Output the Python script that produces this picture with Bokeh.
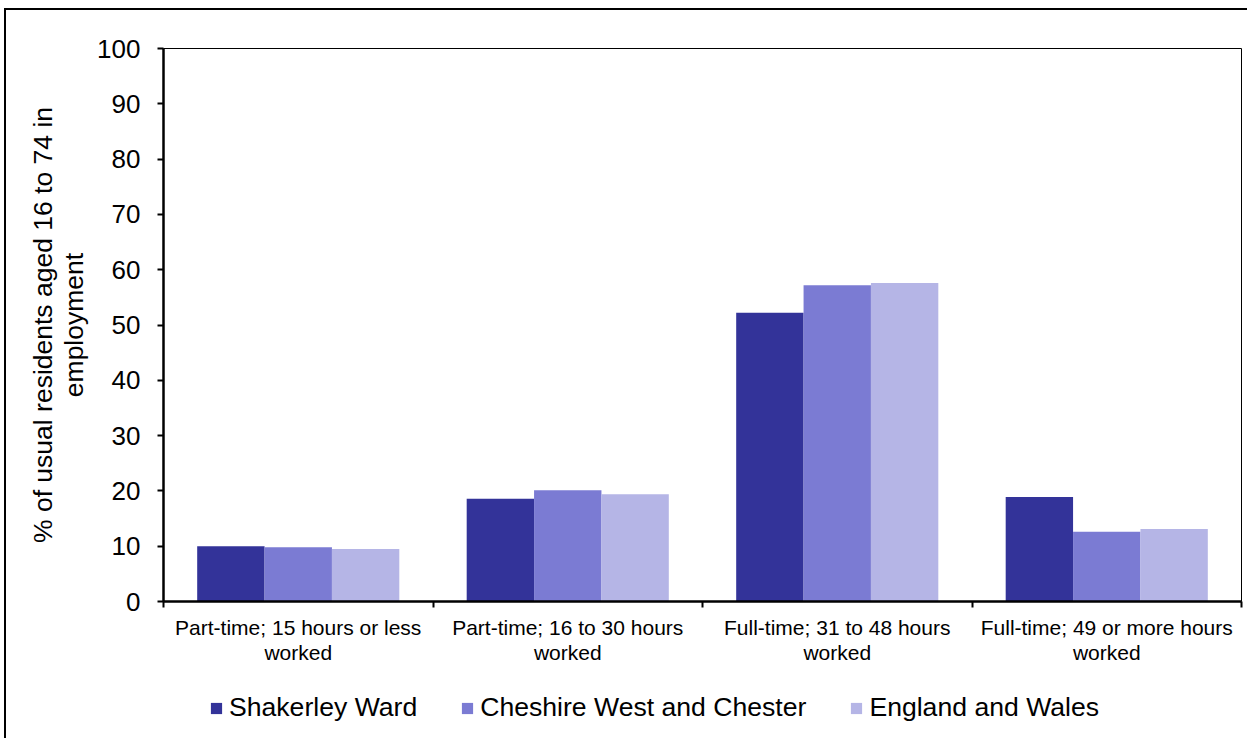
from bokeh.plotting import figure
from bokeh.layouts import column
from bokeh.models import ColumnDataSource, FixedTicker, Range1d, Legend, LegendItem
from bokeh.transform import dodge
from bokeh.embed import file_html
from bokeh.resources import INLINE

categories = [
    "Part-time; 15 hours or less\nworked",
    "Part-time; 16 to 30 hours\nworked",
    "Full-time; 31 to 48 hours\nworked",
    "Full-time; 49 or more hours\nworked",
]
series_names = ["Shakerley Ward", "Cheshire West and Chester", "England and Wales"]
shakerley = [10.0, 18.6, 52.2, 18.9]
cheshire = [9.8, 20.1, 57.2, 12.6]
england = [9.5, 19.4, 57.6, 13.1]
colors = ["#333399", "#7b7bd3", "#b5b5e6"]
y_ticks = list(range(0, 101, 10))
y_label = "% of usual residents aged 16 to 74 in\nemployment"

FONT = "Liberation Sans"

centers = [i + 0.5 for i in range(len(categories))]
source = ColumnDataSource(dict(x=centers, s1=shakerley, s2=cheshire, s3=england))
keys = ["s1", "s2", "s3"]
offsets = [-0.25, 0.0, 0.25]

p = figure(
    width=1241, height=660,
    x_range=Range1d(0, len(categories)), y_range=Range1d(0, 100),
    output_backend="svg", toolbar_location=None,
    min_border_left=157, min_border_right=6, min_border_top=38, min_border_bottom=69,
)

for key, off, col in zip(keys, offsets, colors):
    p.vbar(x=dodge("x", off, range=p.x_range), top=key, width=0.25, bottom=0,
           source=source, fill_color=col, line_color=None)

p.xgrid.visible = False
p.ygrid.visible = False
p.outline_line_color = "black"
p.outline_line_width = 1
p.background_fill_color = "white"
p.border_fill_color = "white"

# x axis
xa = p.xaxis[0]
xa.ticker = FixedTicker(ticks=centers, minor_ticks=list(range(len(categories) + 1)))
xa.major_label_overrides = {c: lab for c, lab in zip(centers, categories)}
xa.major_tick_line_color = None
xa.minor_tick_in = 0
xa.minor_tick_out = 6
xa.minor_tick_line_color = "black"
xa.minor_tick_line_width = 2
xa.axis_line_width = 2.5
xa.axis_line_color = "black"
xa.major_label_text_font = FONT
xa.major_label_text_font_size = "21px"
xa.major_label_text_line_height = 1.1
xa.major_label_text_color = "black"
xa.major_label_standoff = 8

# y axis
ya = p.yaxis[0]
ya.ticker = FixedTicker(ticks=y_ticks)
ya.minor_tick_line_color = None
ya.major_tick_in = 0
ya.major_tick_out = 6
ya.major_tick_line_width = 2
ya.axis_line_width = 2.5
ya.axis_line_color = "black"
ya.major_label_text_font = FONT
ya.major_label_text_font_size = "26px"
ya.major_label_text_color = "black"
ya.major_label_standoff = 17
ya.axis_label = y_label
ya.axis_label_text_font = FONT
ya.axis_label_text_font_size = "26.5px"
ya.axis_label_text_line_height = 1.05
ya.axis_label_text_font_style = "normal"
ya.axis_label_text_color = "black"
ya.axis_label_standoff = 5

# legend strip: its key glyphs use the same data, drawn outside the strip's view
lg = figure(
    width=1241, height=68, x_range=Range1d(0, len(categories)), y_range=Range1d(200, 201),
    output_backend="svg", toolbar_location=None,
    min_border_left=157, min_border_right=6, min_border_top=0, min_border_bottom=0,
    x_axis_type=None, y_axis_type=None,
)
lg.xgrid.visible = False
lg.ygrid.visible = False
lg.outline_line_color = None
lg.background_fill_color = "white"
lg.border_fill_color = "white"
proxies = [lg.vbar(x=dodge("x", off, range=lg.x_range), top=key, width=0.25, bottom=0,
                   source=source, fill_color=c, line_color=None)
           for key, off, c in zip(keys, offsets, colors)]
legend = Legend(
    items=[LegendItem(label=n, renderers=[r]) for n, r in zip(series_names, proxies)],
    orientation="horizontal", location=(46, 15),
    glyph_width=14, glyph_height=14, label_standoff=6, spacing=43,
    padding=0, margin=0, border_line_color=None, background_fill_alpha=0,
    label_text_font=FONT, label_text_font_size="26.6px", label_text_color="black",
    label_height=29,
)
lg.add_layout(legend, "center")

layout = column(p, lg, spacing=0)
layout.styles = {"border-top": "2px solid black", "border-left": "2px solid black",
                 "margin-left": "4px", "margin-top": "8px"}

open("out.html", "w").write(file_html(layout, INLINE))
